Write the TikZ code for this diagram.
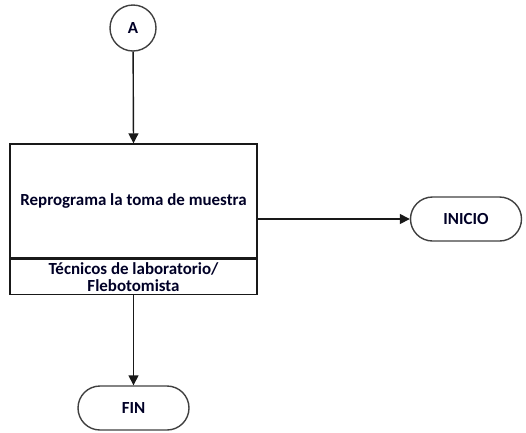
\documentclass[tikz,border=0pt]{standalone}
\usepackage{fontspec}
\setmainfont{Carlito}
\usetikzlibrary{arrows.meta,shapes.misc}
\begin{document}
\begin{tikzpicture}[x=1bp,y=-1bp,
  every node/.style={font=\fontsize{17}{19}\selectfont\bfseries, text=black!85!blue},
  line/.style={line width=1.4bp, draw=black!90},
  arr/.style={line, -{Triangle[length=10bp,width=10bp]}},
  term/.style={line, draw=black!75, rounded rectangle, minimum width=111bp, minimum height=44bp, inner sep=0pt},
  conn/.style={line, draw=black!75, circle, minimum size=46bp, inner sep=0pt},
  procbox/.style={line, rectangle, minimum width=247bp, minimum height=114bp, inner sep=0pt},
  rolebox/.style={line, rectangle, minimum width=247bp, minimum height=35bp, inner sep=0pt, align=center, font=\fontsize{17}{17}\selectfont\bfseries}]
\useasboundingbox (0,0) rectangle (526,432);
\node[conn] (A) at (133,28) {A};
\node[procbox] (P) at (133.5,201) {Reprograma la toma de muestra};
\node[rolebox, anchor=north] (R) at (P.south) {Técnicos de laboratorio/\\Flebotomista};
\node[term] (I) at (466,219) {INICIO};
\node[term] (F) at (133.5,408) {FIN};
\draw[arr] (A) -- (P.north);
\draw[arr] (P.east |- I) -- (I.west);
\draw[arr] (R.south) -- (F.north);
\end{tikzpicture}
\end{document}
